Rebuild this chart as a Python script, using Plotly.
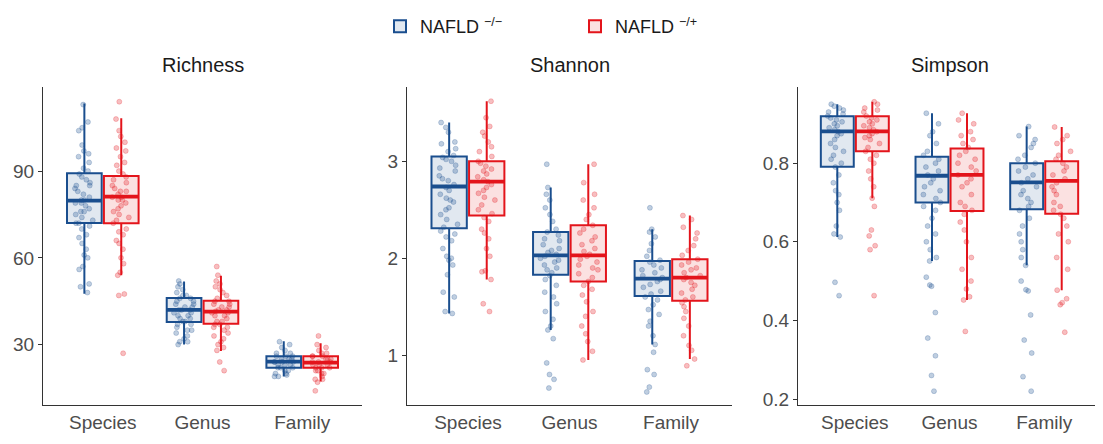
import plotly.graph_objects as go

categories = ["Species", "Genus", "Family"]
group_names = ["NAFLD <sup>−/−</sup>", "NAFLD <sup>−/+</sup>"]
panels = ["Richness", "Shannon", "Simpson"]

# Box statistics per panel: [Species, Genus, Family]
# Richness
rich_neg_stats = dict(q1=[72.1, 37.8, 22.0], median=[79.8, 42.0, 24.1], q3=[89.3, 46.1, 26.0],
                      lowerfence=[47.6, 30.0, 19.0], upperfence=[113.4, 51.8, 31.2])
rich_pos_stats = dict(q1=[72.0, 37.2, 22.0], median=[81.2, 41.4, 23.8], q3=[88.3, 45.2, 26.0],
                      lowerfence=[54.0, 27.8, 17.2], upperfence=[108.3, 53.8, 30.5])
# Shannon
shan_neg_stats = dict(q1=[2.31, 1.83, 1.61], median=[2.74, 2.03, 1.79], q3=[3.05, 2.27, 1.97],
                      lowerfence=[1.43, 1.26, 1.11], upperfence=[3.40, 2.73, 2.30])
shan_pos_stats = dict(q1=[2.44, 1.76, 1.56], median=[2.79, 2.03, 1.80], q3=[3.00, 2.34, 1.99],
                      lowerfence=[1.78, 0.95, 0.96], upperfence=[3.62, 2.97, 2.44])
# Simpson
simp_neg_stats = dict(q1=[0.791, 0.700, 0.683], median=[0.881, 0.768, 0.751], q3=[0.919, 0.816, 0.800],
                      lowerfence=[0.612, 0.551, 0.540], upperfence=[0.950, 0.927, 0.893])
simp_pos_stats = dict(q1=[0.830, 0.678, 0.671], median=[0.881, 0.770, 0.755], q3=[0.919, 0.837, 0.805],
                      lowerfence=[0.711, 0.452, 0.477], upperfence=[0.956, 0.927, 0.892])

# Sample points
rich_neg_species = [48, 50, 51, 56, 57, 60, 61, 63, 65, 67, 68, 70, 71, 72, 72, 73, 74, 75, 76, 76, 77, 78, 79, 79,
                    80, 80, 81, 82, 83, 84, 85, 85, 86, 87, 88, 89, 90, 91, 93, 95, 96, 97, 99, 104, 105, 107, 113]
rich_pos_species = [27, 47, 47.5, 54, 55, 58, 60, 63, 65, 66, 68, 69, 70, 72, 73, 74, 75, 76, 77, 78, 79, 80, 80, 81,
                    81, 82, 83, 83, 84, 85, 86, 87, 88, 89, 90, 92, 93, 95, 97, 98, 100, 102, 104, 108, 114]
rich_neg_genus = [30, 31, 31, 32, 33, 34, 35, 35, 36, 37, 37, 38, 38, 39, 39, 40, 40, 41, 41, 42, 42, 42, 43, 43,
                  44, 44, 45, 45, 46, 46, 47, 47, 48, 49, 50, 51, 52]
rich_pos_genus = [21, 24, 28, 29, 30, 31, 32, 33, 34, 35, 36, 36, 37, 37, 38, 38, 39, 40, 40, 41, 41, 41.5, 42, 42,
                  43, 43, 44, 44, 45, 45, 46, 47, 48, 49, 50, 51, 52, 54, 57]
rich_neg_family = [19, 19, 19.5, 20, 20, 21, 21, 22, 22, 22, 23, 23, 23, 24, 24, 24, 24, 25, 25, 25, 26, 26, 26,
                   27, 27, 28, 29, 30, 31]
rich_pos_family = [14, 17, 18, 18, 19, 20, 20, 21, 21, 22, 22, 22, 23, 23, 23, 24, 24, 24, 25, 25, 25, 26, 26, 26,
                   27, 27, 28, 29, 30, 33]

shan_neg_species = [1.43, 1.45, 1.6, 1.65, 1.83, 1.93, 1.98, 2.0, 2.02, 2.1, 2.18, 2.22, 2.25, 2.28, 2.32, 2.35,
                    2.4, 2.45, 2.5, 2.52, 2.58, 2.6, 2.62, 2.66, 2.7, 2.73, 2.76, 2.8, 2.82, 2.85, 2.9, 2.93, 2.96,
                    3.0, 3.02, 3.04, 3.06, 3.1, 3.13, 3.18, 3.2, 3.3, 3.35, 3.4]
shan_pos_species = [1.45, 1.53, 1.78, 1.86, 1.87, 2.02, 2.1, 2.2, 2.26, 2.3, 2.38, 2.42, 2.46, 2.5, 2.55, 2.6, 2.63,
                    2.67, 2.7, 2.73, 2.76, 2.79, 2.81, 2.84, 2.87, 2.9, 2.92, 2.95, 2.98, 3.0, 3.05, 3.1, 3.15, 3.2,
                    3.26, 3.3, 3.36, 3.45, 3.62]
shan_neg_genus = [0.66, 0.75, 0.8, 0.92, 1.17, 1.26, 1.3, 1.37, 1.45, 1.53, 1.6, 1.65, 1.72, 1.78, 1.82, 1.85, 1.88,
                  1.9, 1.93, 1.96, 1.98, 2.0, 2.02, 2.04, 2.06, 2.08, 2.1, 2.14, 2.18, 2.2, 2.24, 2.27, 2.3, 2.38,
                  2.45, 2.52, 2.6, 2.66, 2.73, 2.97]
shan_pos_genus = [0.95, 1.04, 1.14, 1.22, 1.3, 1.4, 1.45, 1.55, 1.62, 1.68, 1.72, 1.76, 1.8, 1.84, 1.88, 1.9, 1.93,
                  1.96, 1.99, 2.02, 2.04, 2.07, 2.1, 2.14, 2.18, 2.22, 2.26, 2.3, 2.34, 2.4, 2.45, 2.52, 2.6, 2.66,
                  2.78, 2.97]
shan_neg_family = [0.62, 0.67, 0.8, 0.85, 1.03, 1.11, 1.2, 1.3, 1.35, 1.42, 1.47, 1.52, 1.57, 1.6, 1.63, 1.66, 1.7,
                   1.73, 1.76, 1.78, 1.8, 1.82, 1.85, 1.88, 1.9, 1.93, 1.96, 1.98, 2.02, 2.08, 2.15, 2.22, 2.27,
                   2.3, 2.52]
shan_pos_family = [0.89, 0.96, 1.05, 1.1, 1.2, 1.3, 1.38, 1.45, 1.5, 1.54, 1.57, 1.6, 1.64, 1.68, 1.72, 1.75, 1.78,
                   1.8, 1.82, 1.85, 1.88, 1.9, 1.93, 1.96, 1.99, 2.03, 2.08, 2.13, 2.2, 2.26, 2.32, 2.4, 2.44]

simp_neg_species = [0.463, 0.497, 0.612, 0.62, 0.64, 0.68, 0.7, 0.72, 0.73, 0.75, 0.77, 0.79, 0.8, 0.81, 0.82,
                    0.83, 0.84, 0.85, 0.86, 0.87, 0.875, 0.88, 0.885, 0.89, 0.895, 0.9, 0.905, 0.91, 0.915, 0.92,
                    0.925, 0.93, 0.935, 0.94, 0.945, 0.95]
simp_pos_species = [0.463, 0.58, 0.59, 0.615, 0.63, 0.69, 0.711, 0.74, 0.76, 0.78, 0.8, 0.81, 0.82, 0.83, 0.84,
                    0.85, 0.86, 0.865, 0.87, 0.875, 0.88, 0.885, 0.89, 0.895, 0.9, 0.905, 0.91, 0.915, 0.92, 0.93,
                    0.935, 0.94, 0.95, 0.956]
simp_neg_genus = [0.22, 0.26, 0.31, 0.355, 0.42, 0.487, 0.49, 0.51, 0.551, 0.56, 0.58, 0.6, 0.62, 0.64, 0.66, 0.68,
                  0.69, 0.7, 0.71, 0.72, 0.73, 0.74, 0.75, 0.76, 0.77, 0.78, 0.79, 0.8, 0.81, 0.82, 0.83, 0.85,
                  0.87, 0.88, 0.9, 0.927]
simp_pos_genus = [0.372, 0.452, 0.46, 0.48, 0.5, 0.53, 0.56, 0.6, 0.63, 0.65, 0.67, 0.68, 0.69, 0.7, 0.72, 0.74,
                  0.75, 0.76, 0.77, 0.78, 0.79, 0.8, 0.81, 0.82, 0.83, 0.84, 0.85, 0.86, 0.87, 0.88, 0.9, 0.91, 0.927]
simp_neg_family = [0.22, 0.257, 0.317, 0.35, 0.414, 0.475, 0.478, 0.5, 0.54, 0.56, 0.58, 0.6, 0.62, 0.64, 0.66,
                   0.68, 0.69, 0.7, 0.71, 0.72, 0.73, 0.74, 0.75, 0.76, 0.77, 0.78, 0.79, 0.8, 0.81, 0.82, 0.84,
                   0.85, 0.86, 0.87, 0.893]
simp_pos_family = [0.37, 0.44, 0.445, 0.455, 0.477, 0.53, 0.56, 0.6, 0.62, 0.64, 0.66, 0.67, 0.68, 0.69, 0.7, 0.72,
                   0.73, 0.74, 0.75, 0.76, 0.77, 0.78, 0.79, 0.8, 0.81, 0.82, 0.83, 0.85, 0.86, 0.87, 0.892]

y_ticks = [[30, 60, 90], [1, 2, 3], [0.2, 0.4, 0.6, 0.8]]
y_ticktext = [["30", "60", "90"], ["1", "2", "3"], ["0.2", "0.4", "0.6", "0.8"]]
y_ranges = [[9.0, 119.0], [0.482, 3.764], [0.184, 0.993]]

stats = [(rich_neg_stats, rich_pos_stats), (shan_neg_stats, shan_pos_stats), (simp_neg_stats, simp_pos_stats)]
points = [
    ((rich_neg_species, rich_neg_genus, rich_neg_family), (rich_pos_species, rich_pos_genus, rich_pos_family)),
    ((shan_neg_species, shan_neg_genus, shan_neg_family), (shan_pos_species, shan_pos_genus, shan_pos_family)),
    ((simp_neg_species, simp_neg_genus, simp_neg_family), (simp_pos_species, simp_pos_genus, simp_pos_family)),
]

line_colors = ["#1A4E8E", "#E3141B"]
fill_colors = ["rgba(26,78,142,0.13)", "rgba(227,20,27,0.13)"]
pt_colors = ["rgba(26,78,142,0.28)", "rgba(227,20,27,0.28)"]
groups = ["neg", "pos"]

# the page body has an 8px margin, so the figure starts at (8, 8) in the window
OFF = 8
W, H = 1103 - OFF, 444 - OFF


def fx(px):
    return (px - OFF) / W


def fy(py):
    return 1 - (py - OFF) / H


x_domains = [[fx(43), fx(362)], [fx(407), fx(732)], [fx(798), fx(1101)]]
y_domain = [fy(409), fy(88)]

fig = go.Figure()
for p in range(3):
    xa = "x" if p == 0 else f"x{p+1}"
    ya = "y" if p == 0 else f"y{p+1}"
    for g in range(2):
        s = stats[p][g]
        fig.add_trace(go.Box(
            x=categories, q1=s["q1"], median=s["median"], q3=s["q3"],
            lowerfence=s["lowerfence"], upperfence=s["upperfence"],
            boxpoints=False, name=group_names[g], legendgroup=groups[g], showlegend=(p == 0),
            offsetgroup=groups[g], fillcolor=fill_colors[g], whiskerwidth=0,
            line=dict(color=line_colors[g], width=2), xaxis=xa, yaxis=ya, hoverinfo="skip"))
        xs, ys = [], []
        for c, vals in zip(categories, points[p][g]):
            xs += [c] * len(vals)
            ys += vals
        fig.add_trace(go.Box(
            x=xs, y=ys, boxpoints="all", jitter=0.62, pointpos=0, whiskerwidth=0,
            name=group_names[g], legendgroup=groups[g], showlegend=False, offsetgroup=groups[g],
            fillcolor="rgba(0,0,0,0)", line=dict(color="rgba(0,0,0,0)", width=0),
            marker=dict(color=pt_colors[g], size=5, line=dict(color=pt_colors[g], width=0.8)),
            xaxis=xa, yaxis=ya, hoveron="points"))
        fig.add_trace(go.Box(
            x=categories, q1=s["median"], median=s["median"], q3=s["median"],
            lowerfence=s["median"], upperfence=s["median"], whiskerwidth=0,
            boxpoints=False, name=group_names[g], legendgroup=groups[g], showlegend=False,
            offsetgroup=groups[g], fillcolor="rgba(0,0,0,0)",
            line=dict(color=line_colors[g], width=3.8), xaxis=xa, yaxis=ya, hoverinfo="skip"))

layout = dict(
    width=W, height=H, margin=dict(l=0, r=0, t=0, b=0),
    paper_bgcolor="white", plot_bgcolor="white",
    boxmode="group", boxgap=0.26, boxgroupgap=0.06,
    font=dict(family="Liberation Sans, Arial, sans-serif", size=19, color="#4D4D4D"),
    legend=dict(orientation="h", x=fx(380), xanchor="left", y=1.0, yanchor="top",
                font=dict(size=18, color="#1a1a1a"), entrywidth=150, itemwidth=30,
                bgcolor="rgba(0,0,0,0)"),
    annotations=[],
)
for p in range(3):
    kx = "xaxis" if p == 0 else f"xaxis{p+1}"
    ky = "yaxis" if p == 0 else f"yaxis{p+1}"
    ya = "y" if p == 0 else f"y{p+1}"
    xa = "x" if p == 0 else f"x{p+1}"
    layout[kx] = dict(domain=x_domains[p], anchor=ya, type="category", categoryorder="array",
                      categoryarray=categories, range=[-0.6, 2.6], showline=True, linecolor="#333333",
                      linewidth=1, ticks="", showgrid=False, zeroline=False, fixedrange=True,
                      tickfont=dict(size=19, color="#4D4D4D"))
    layout[ky] = dict(domain=y_domain, anchor=xa, range=y_ranges[p], tickvals=y_ticks[p],
                      ticktext=y_ticktext[p], showline=True, linecolor="#333333", linewidth=1,
                      ticks="outside", ticklen=4, tickcolor="#333333", showgrid=False, zeroline=False,
                      tickfont=dict(size=19, color="#4D4D4D"))
    layout["annotations"].append(dict(
        text=panels[p], x=(x_domains[p][0] + x_domains[p][1]) / 2, y=fy(66),
        xref="paper", yref="paper", xanchor="center", yanchor="middle", showarrow=False,
        font=dict(size=20, color="#1a1a1a")))

fig.update_layout(**layout)
fig.write_html("out.html")
